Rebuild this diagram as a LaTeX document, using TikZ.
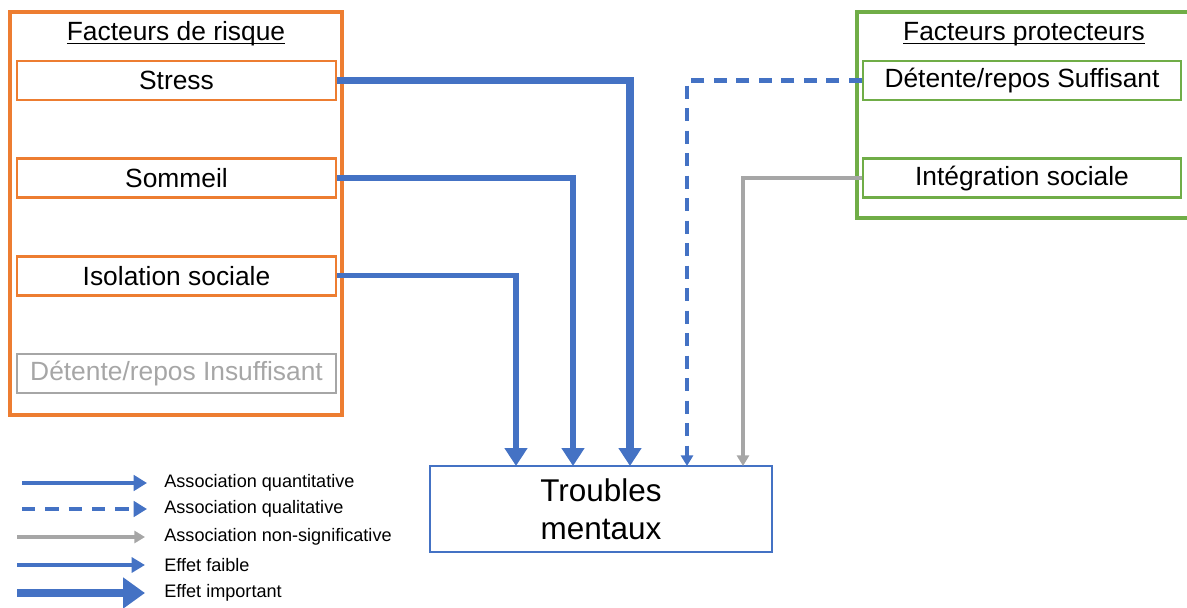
\documentclass[tikz,border=0pt]{standalone}
\usepackage{fontspec}
\setmainfont{Liberation Sans}
\usepackage{xcolor}
\usetikzlibrary{arrows.meta, positioning}
\definecolor{OffBlue}   {RGB}{ 68, 114, 196}
\definecolor{OffOrange} {RGB}{237, 125,  49}
\definecolor{OffGreen}  {RGB}{112, 173,  71}
\definecolor{OffGrey}   {RGB}{166, 166, 166}

\tikzset{
  factor/.style={draw, line width=1.5pt, minimum width=6.38cm,
                 minimum height=0.78cm, inner sep=0pt,
                 font=\fontsize{15}{18}\selectfont},
  riskbox/.style={factor, draw=OffOrange},
  protbox/.style={factor, draw=OffGreen, minimum width=6.36cm},
  grouptitle/.style={anchor=base, inner sep=0pt,
                     font=\fontsize{15}{18}\selectfont},
  legtext/.style={anchor=west, inner sep=0pt,
                  font=\fontsize{10.3}{12}\selectfont},
  bigarrow/.style={draw=OffBlue, -{Triangle[width=12.5pt, length=10.2pt]}},
  dasharrow/.style={draw=OffBlue, line width=2.3pt,
                    dash pattern=on 7.4pt off 5.4pt,
                    -{Triangle[width=6.8pt, length=6pt]}},
  greyarrow/.style={draw=OffGrey, line width=1.9pt,
                    -{Triangle[width=6.8pt, length=6pt]}}
}

\begin{document}
\begin{tikzpicture}[x=0.02cm, y=-0.02cm]
  \useasboundingbox (0,0) rectangle (1187,608);

  % risk factors
  \draw[OffOrange, line width=2.2pt] (10,12) rectangle (342,415);
  \node[grouptitle] (risktitle) at (176,41)
    {\underline{\smash{Facteurs de risque}}};
  \node[riskbox] (stress) at (176.5,80.5) {Stress};
  \node[riskbox, below=1.12cm of stress] (sommeil) {Sommeil};
  \node[riskbox, below=1.12cm of sommeil] (isolation) {Isolation sociale};
  \node[riskbox, below=1.12cm of isolation, draw=OffGrey, text=OffGrey]
    (detinsuf) {Détente/repos Insuffisant};

  % protective factors
  \draw[OffGreen, line width=2.2pt] (857,12) rectangle (1195,218);
  \node[grouptitle] (prottitle) at (1024,41)
    {\underline{\smash{Facteurs protecteurs}}};
  \node[protbox] (detsuf) at (1022,80.5) {Détente/repos Suffisant};
  \node[protbox, below=1.12cm of detsuf] (integration) {Intégration sociale};

  % outcome
  \node[draw=OffBlue, line width=1.5pt, minimum width=6.84cm,
        minimum height=1.72cm, inner sep=0pt, align=center,
        font=\fontsize{17.9}{21.6}\selectfont] (troubles) at (601,509)
        {Troubles\\mentaux};
  \coordinate (inIso)  at (516,466);
  \coordinate (inSom)  at (573,466);
  \coordinate (inStr)  at (630,466);
  \coordinate (inDet)  at (687,466);
  \coordinate (inInt)  at (743,466);

  \draw[bigarrow, line width=3.1pt] (isolation.east) -| (inIso);
  \draw[bigarrow, line width=3.5pt] (sommeil.east) -| (inSom);
  \draw[bigarrow, line width=4pt] (stress.east) -| (inStr);
  \draw[dasharrow] (detsuf.west) -| (inDet);
  \draw[greyarrow] (integration.west) -| (inInt);

  % legend
  \node[legtext] (lquant) at (164,483) {Association quantitative};
  \node[legtext] (lqual)  at (164,509) {Association qualitative};
  \node[legtext] (lnons)  at (164,537) {Association non-significative};
  \node[legtext] (lfaib)  at (164,565) {Effet faible};
  \node[legtext] (limp)   at (164,593) {Effet important};
  \coordinate (squant) at (22,483);
  \coordinate (squal)  at (22,509);
  \coordinate (snons)  at (17,537);
  \coordinate (sfaib)  at (17,565);
  \coordinate (simp)   at (17,593);
  \draw[draw=OffBlue, line width=2.4pt,
        -{Triangle[width=8.8pt, length=7.6pt]}, shorten >=0.34cm]
        (squant) -- (lquant.west);
  \draw[dasharrow, line width=2.4pt, dash pattern=on 7.6pt off 5.7pt,
        -{Triangle[width=8.8pt, length=7.6pt]}, shorten >=0.34cm]
        (squal) -- (lqual.west);
  \draw[greyarrow, shorten >=0.38cm] (snons) -- (lnons.west);
  \draw[draw=OffBlue, line width=1.9pt,
        -{Triangle[width=8.5pt, length=7.6pt]}, shorten >=0.38cm]
        (sfaib) -- (lfaib.west);
  \draw[draw=OffBlue, line width=4.2pt,
        -{Triangle[width=17pt, length=12.5pt]}, shorten >=0.38cm]
        (simp) -- (limp.west);
\end{tikzpicture}
\end{document}
